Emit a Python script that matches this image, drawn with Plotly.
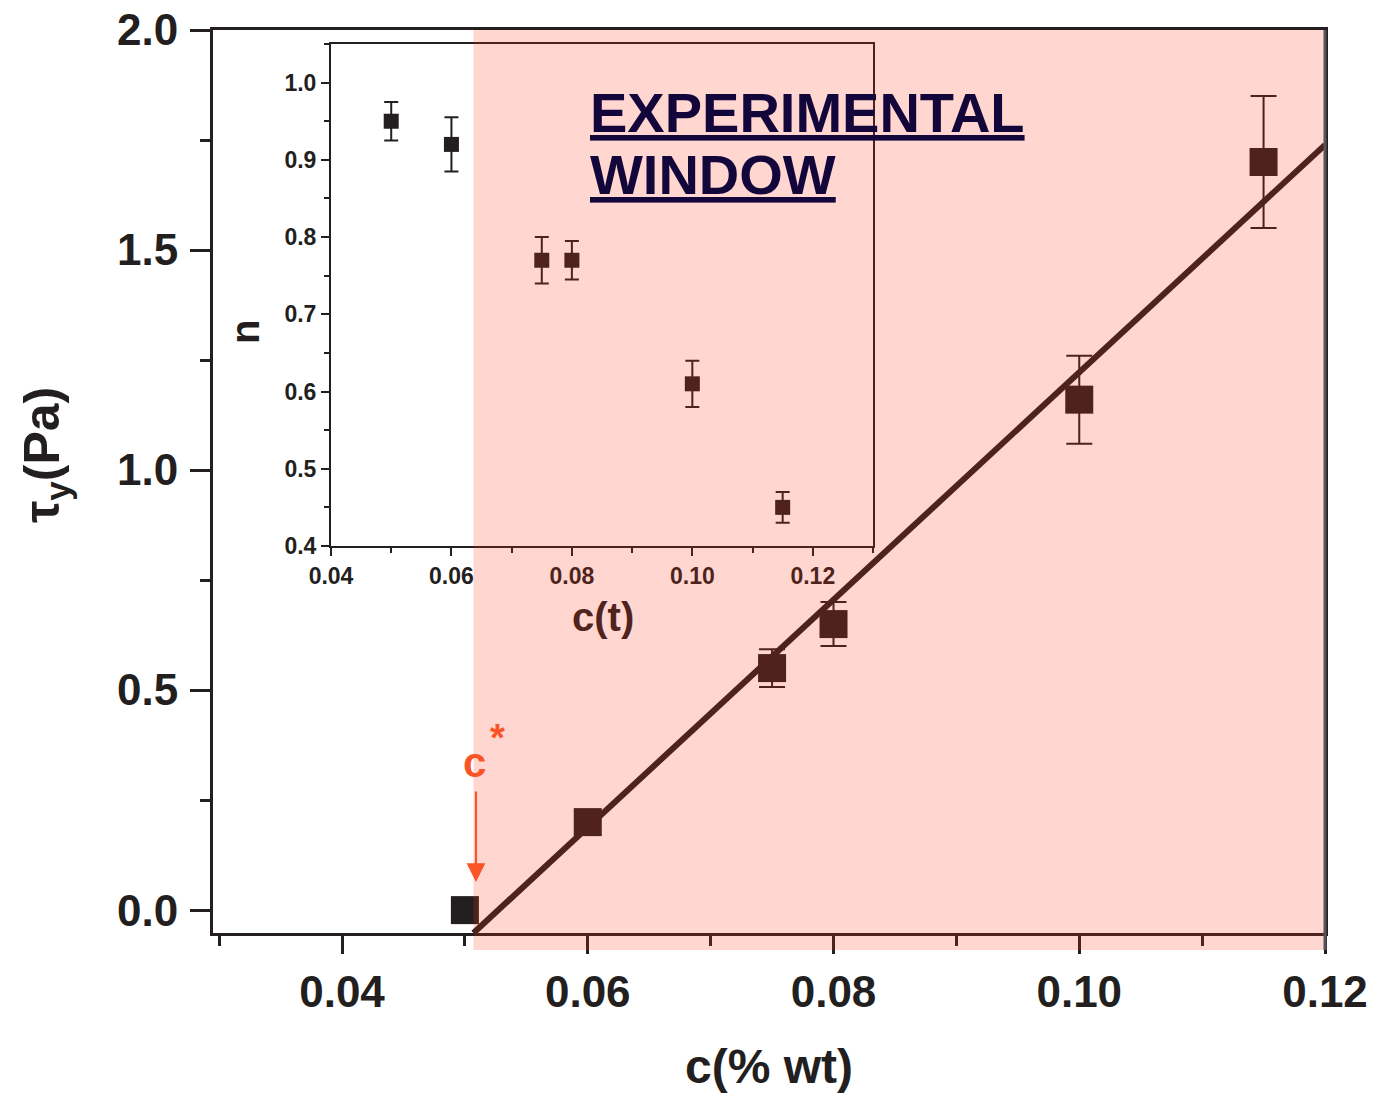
import plotly.graph_objects as go

# Yield stress against polymer concentration (main panel)
conc = [0.05, 0.06, 0.075, 0.08, 0.10, 0.115]
tau_y = [0.0, 0.20, 0.55, 0.65, 1.16, 1.70]
tau_err = [0.0, 0.0, 0.043, 0.05, 0.10, 0.15]

# Linear fit of the yield stress above c*
fit_conc = [0.0507, 0.12]
fit_tau = [-0.052, 1.739]

# Flow index n against concentration (inset)
n_conc = [0.05, 0.06, 0.075, 0.08, 0.10, 0.115]
n_vals = [0.95, 0.92, 0.77, 0.77, 0.61, 0.45]
n_err = [0.025, 0.035, 0.03, 0.025, 0.03, 0.02]

# Experimental window starts at c*
window_start = 0.0507
c_star = 0.0509

main_ticks_x = [0.04, 0.06, 0.08, 0.10, 0.12]
main_ticks_y = [0.0, 0.5, 1.0, 1.5, 2.0]
inset_ticks_x = [0.04, 0.06, 0.08, 0.10, 0.12]
inset_ticks_y = [0.4, 0.5, 0.6, 0.7, 0.8, 0.9, 1.0]

INK = "#231f20"
ORANGE = "#fa5526"
NAVY = "#12063a"
FONT = "Liberation Sans"
NARROW = "Liberation Sans Narrow, Liberation Sans"

W, H = 1384, 1096
L, R, T, B = 213, 59, 30, 163
PW, PH = W - L - R, H - T - B


def px(x):
    return (x - L) / PW


def py(y):
    return (H - B - y) / PH


fig = go.Figure()

fig.add_trace(go.Scatter(
    x=fit_conc, y=fit_tau, mode="lines",
    line=dict(color=INK, width=6), xaxis="x", yaxis="y", showlegend=False,
))
fig.add_trace(go.Scatter(
    x=conc, y=tau_y, mode="markers",
    marker=dict(symbol="square", size=28, color=INK, line=dict(width=0)),
    error_y=dict(type="data", array=tau_err, visible=True, color=INK,
                 thickness=2, width=13),
    xaxis="x", yaxis="y", showlegend=False,
))
fig.add_trace(go.Scatter(
    x=n_conc, y=n_vals, mode="markers",
    marker=dict(symbol="square", size=15, color=INK, line=dict(width=0)),
    error_y=dict(type="data", array=n_err, visible=True, color=INK,
                 thickness=2, width=7),
    xaxis="x2", yaxis="y2", showlegend=False,
))

main_axis = dict(
    showgrid=False, zeroline=False, showline=True, linecolor=INK,
    linewidth=3, mirror=True, ticks="outside", tickwidth=3, automargin=False,
    tickcolor=INK, tickfont=dict(family=FONT, size=44, color=INK, weight="bold"),
)
inset_axis = dict(
    showgrid=False, zeroline=False, showline=True, linecolor=INK,
    linewidth=2, mirror=True, ticks="outside", ticklen=8, tickwidth=1.5,
    tickcolor=INK, automargin=False,
    tickfont=dict(family=NARROW, size=23, color=INK, weight="bold"),
)

fig.update_layout(
    width=W, height=H,
    margin=dict(l=L, r=R, t=T, b=B),
    paper_bgcolor="white", plot_bgcolor="rgba(0,0,0,0)",
    xaxis=dict(
        main_axis, domain=[0, 1], range=[0.0295, 0.12],
        tickvals=main_ticks_x, ticktext=[f"{v:.2f}" for v in main_ticks_x],
        ticklen=18, ticklabelstandoff=0,
        minor=dict(ticks="outside", dtick=0.01, tick0=0.0, ticklen=10,
                   tickwidth=3, tickcolor=INK),
    ),
    yaxis=dict(
        main_axis, domain=[0, 1], range=[-0.052, 2.0],
        tickvals=main_ticks_y, ticktext=[f"{v:.1f}" for v in main_ticks_y],
        ticklen=20, ticklabelstandoff=3,
        minor=dict(ticks="outside", dtick=0.25, tick0=0.0, ticklen=10,
                   tickwidth=3, tickcolor=INK),
    ),
    xaxis2=dict(
        inset_axis, domain=[px(331), px(873)], anchor="y2", range=[0.04, 0.13],
        tickvals=inset_ticks_x, ticktext=[f"{v:.2f}" for v in inset_ticks_x],
        minor=dict(ticks="outside", dtick=0.01, tick0=0.0, ticklen=5,
                   tickwidth=1.5, tickcolor=INK),
    ),
    yaxis2=dict(
        inset_axis, domain=[py(546), py(44)], anchor="x2", range=[0.4, 1.05],
        tickvals=inset_ticks_y, ticktext=[f"{v:.1f}" for v in inset_ticks_y],
        minor=dict(ticks="outside", dtick=0.05, tick0=0.0, ticklen=5,
                   tickwidth=1.5, tickcolor=INK),
    ),
)

# Translucent band marking the experimental window
fig.add_shape(
    type="rect", xref="x", yref="paper",
    x0=window_start, x1=0.12, y0=py(950), y1=1.0,
    fillcolor="rgba(255,50,22,0.2)", line=dict(width=0), layer="above",
)
fig.add_shape(
    type="line", xref="paper", yref="paper",
    x0=1.0, x1=1.0, y0=py(950), y1=1.0,
    line=dict(color="#555555", width=3), layer="above",
)

annotations = [
    dict(text="c(% wt)", x=px(769), y=py(1066),
         font=dict(family=FONT, size=48, color=INK, weight="bold")),
    dict(text="τ<sub>y</sub>(Pa)", x=px(45), y=py(455), textangle=-90,
         font=dict(family=FONT, size=50, color=INK, weight="bold")),
    dict(text="n", x=px(245), y=py(332), textangle=-90,
         font=dict(family=FONT, size=40, color=INK, weight="bold")),
    dict(text="c(t)", x=px(603), y=py(617),
         font=dict(family=NARROW, size=40, color="#4f231e", weight="bold")),
    dict(text="<u>EXPERIMENTAL</u>", x=px(588), y=py(112), xanchor="left",
         font=dict(family=FONT, size=56, color=NAVY, weight="bold")),
    dict(text="<u>WINDOW</u>", x=px(588), y=py(174), xanchor="left",
         font=dict(family=FONT, size=56, color=NAVY, weight="bold")),
    dict(text="c", x=px(474), y=py(762),
         font=dict(family=FONT, size=42, color=ORANGE, weight="bold")),
    dict(text="*", x=px(497), y=py(738),
         font=dict(family=FONT, size=38, color=ORANGE, weight="bold")),
]
for a in annotations:
    a.setdefault("xanchor", "center")
    a.setdefault("yanchor", "middle")
    fig.add_annotation(xref="paper", yref="paper", showarrow=False, **a)

# Arrow pointing at c*
fig.add_annotation(
    xref="x", yref="paper", x=c_star, y=py(882), text="",
    showarrow=True, ax=0, ay=-92, arrowhead=2, arrowsize=1.7,
    arrowwidth=2.2, arrowcolor=ORANGE, standoff=0,
)

fig.write_html("out.html")
